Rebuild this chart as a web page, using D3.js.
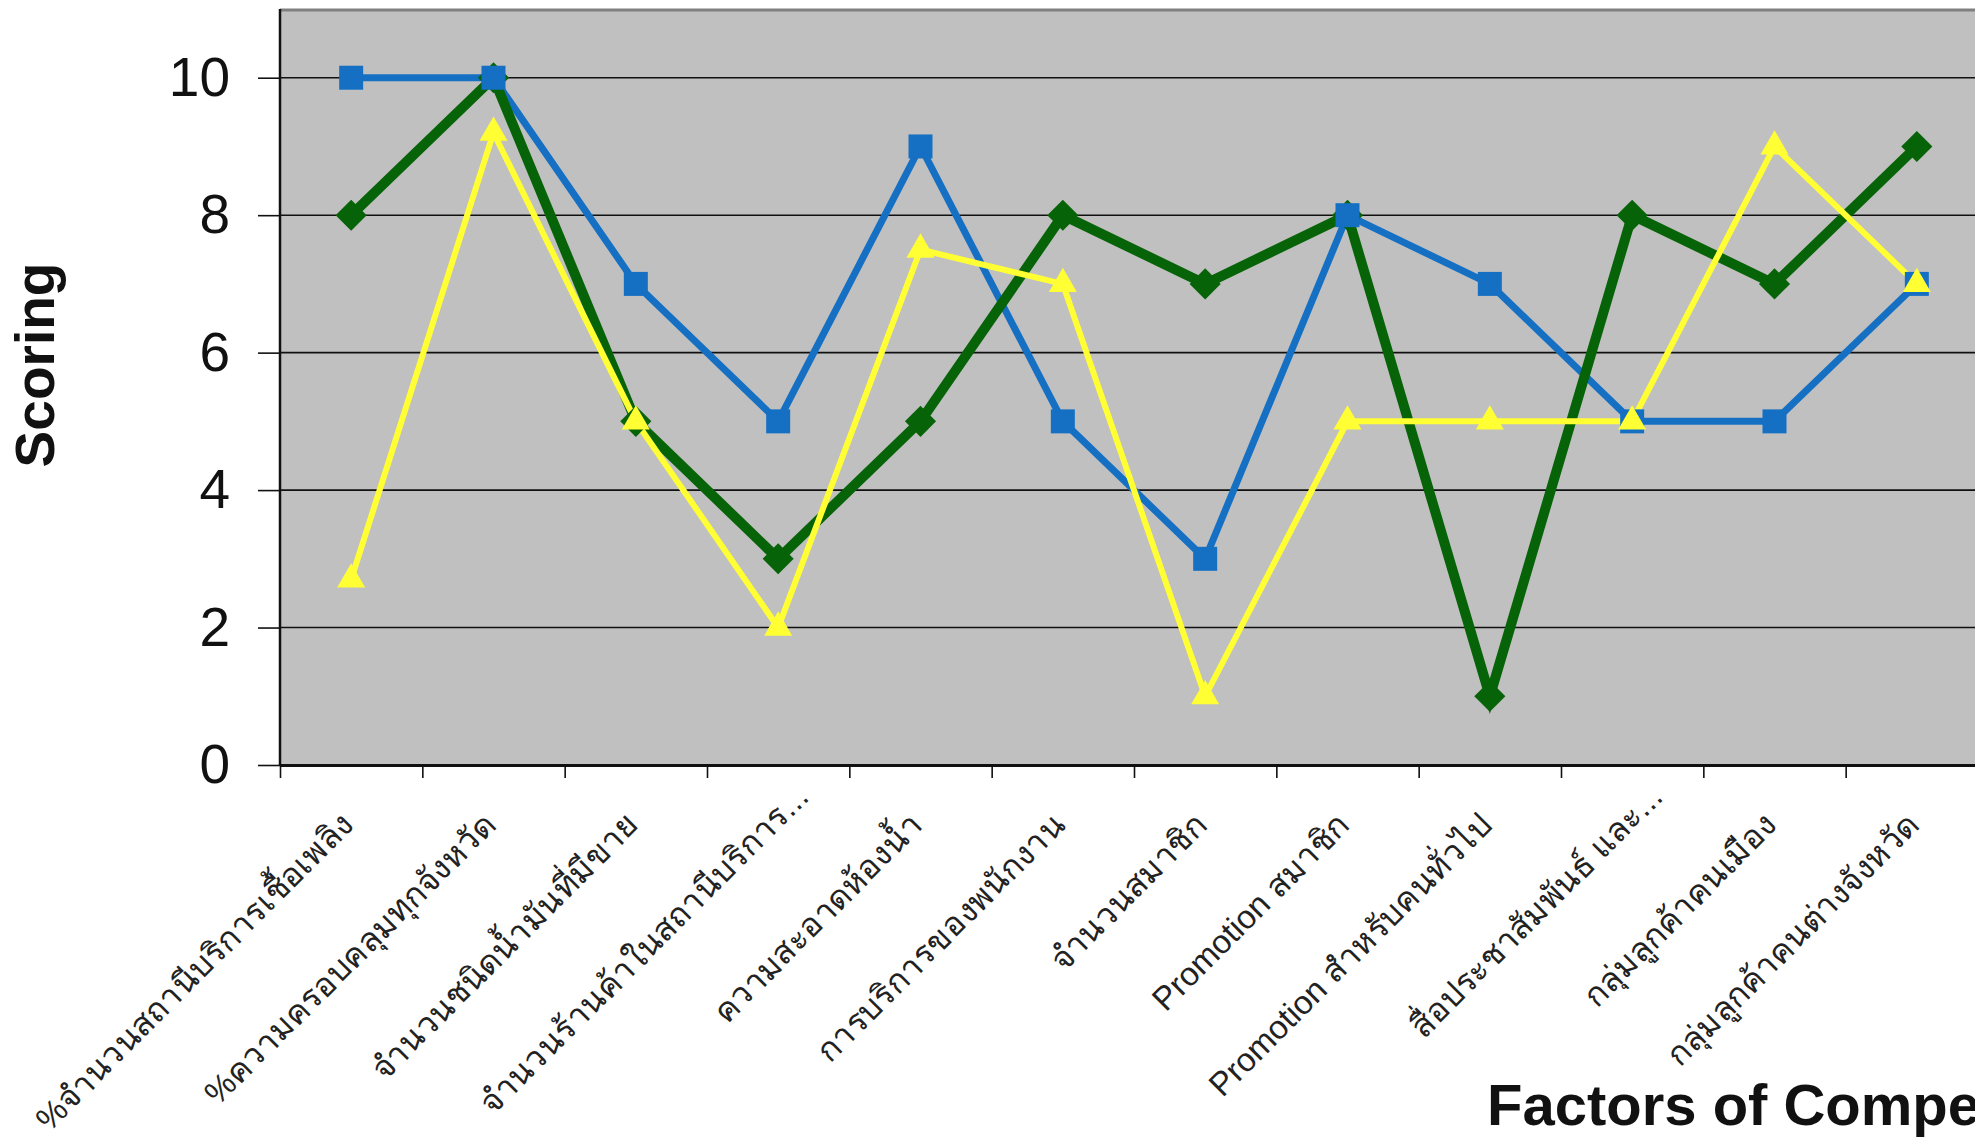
<!DOCTYPE html>
<html><head><meta charset="utf-8">
<script src="https://cdn.jsdelivr.net/npm/d3@7"></script>
<style>html,body{margin:0;padding:0;background:#fff;overflow:hidden}svg{display:block}</style>
</head><body>
<svg id="chart" width="1975" height="1138"></svg>
<script>
const categories = [
  "%จำนวนสถานีบริการเชื้อเพลิง",
  "%ความครอบคลุมทุกจังหวัด",
  "จำนวนชนิดน้ำมันที่มีขาย",
  "จำนวนร้านค้าในสถานีบริการ...",
  "ความสะอาดห้องน้ำ",
  "การบริการของพนักงาน",
  "จำนวนสมาชิก",
  "Promotion สมาชิก",
  "Promotion สำหรับคนทั่วไป",
  "สื่อประชาสัมพันธ์ และ...",
  "กลุ่มลูกค้าคนเมือง",
  "กลุ่มลูกค้าคนต่างจังหวัด"
];
const seriesBlue   = [10, 10, 7, 5, 9, 5, 3, 8, 7, 5, 5, 7];
const seriesGreen  = [8, 10, 5, 3, 5, 8, 7, 8, 1, 8, 7, 9];
const seriesYellow = [2.7, 9.2, 5, 2, 7.5, 7, 1, 5, 5, 5, 9, 7];
const yTicks = [0, 2, 4, 6, 8, 10];
const yTitle = "Scoring";
const xTitle = "Factors of Competition";

const pLeft = 280, pRight = 1988, pTop = 9, pBottom = 765;
const FONT = "'Liberation Sans', Arial, 'Noto Sans', 'DejaVu Sans', sans-serif";

const svg = d3.select("#chart");
const x = d3.scaleBand().domain(categories).range([pLeft, pRight]).padding(0);
const xb = d3.scaleLinear().domain([0, categories.length]).range([pLeft, pRight]);
const y = d3.scaleLinear().domain([0, 11]).range([pBottom, pTop]);

// plot background
svg.append("rect").attr("x", pLeft).attr("y", pTop).attr("width", pRight - pLeft).attr("height", pBottom - pTop)
  .attr("fill", "#c0c0c0");
// top border
svg.append("line").attr("x1", pLeft).attr("x2", pRight).attr("y1", pTop + 1).attr("y2", pTop + 1)
  .attr("stroke", "#808080").attr("stroke-width", 3);

// gridlines
svg.append("g").selectAll("line").data(yTicks.filter(d => d > 0)).join("line")
  .attr("x1", pLeft).attr("x2", pRight)
  .attr("y1", d => y(d)).attr("y2", d => y(d))
  .attr("stroke", "#111").attr("stroke-width", 1.6);

// y axis
const yAxis = svg.append("g").attr("transform", `translate(${pLeft},0)`)
  .call(d3.axisLeft(y).tickValues(yTicks).tickSize(22).tickPadding(28).tickSizeOuter(0));
yAxis.select(".domain").attr("stroke", "#111").attr("stroke-width", 2.5)
  .attr("d", `M0,${pTop}V${pBottom}`);
yAxis.selectAll(".tick line").attr("stroke", "#111").attr("stroke-width", 1.6);
yAxis.selectAll(".tick text").attr("font-family", FONT).attr("font-size", 55).attr("fill", "#111");

// x axis boundary ticks
const xTickAxis = svg.append("g").attr("transform", `translate(0,${pBottom})`)
  .call(d3.axisBottom(xb).tickValues(d3.range(categories.length + 1)).tickFormat("").tickSize(13).tickSizeOuter(0));
xTickAxis.select(".domain").attr("stroke", "#111").attr("stroke-width", 3);
xTickAxis.selectAll(".tick line").attr("stroke", "#111").attr("stroke-width", 1.6);

// x labels
const xLab = svg.append("g").attr("transform", `translate(0,${pBottom})`)
  .call(d3.axisBottom(x).tickSize(0).tickSizeOuter(0));
xLab.select(".domain").remove();
xLab.selectAll(".tick text")
  .attr("font-family", FONT).attr("font-size", 33).attr("fill", "#222")
  .attr("text-anchor", "end").attr("dy", 0).attr("y", 0)
  .attr("dx", d => d.endsWith("...") ? 40 : 0)
  .attr("transform", "translate(4,62) rotate(-45)");

// series
const series = [
  {key: "blue", values: seriesBlue, color: "#1570c4", width: 7},
  {key: "green", values: seriesGreen, color: "#076307", width: 10},
  {key: "yellow", values: seriesYellow, color: "#ffff33", width: 6}
];
const line = d3.line().x((d, i) => x(categories[i]) + x.bandwidth() / 2).y(d => y(d));
const lines = svg.append("g");
series.forEach(s => {
  lines.append("path").datum(s.values).attr("d", line)
    .attr("fill", "none").attr("stroke", s.color).attr("stroke-width", s.width)
    .attr("stroke-linejoin", "miter");
});
const markerOrder = [series[1], series[0], series[2]];
const marks = svg.append("g");
markerOrder.forEach(s => {
  let sym, rot = 0;
  if (s.key === "blue") sym = d3.symbol(d3.symbolSquare, 24 * 24);
  else if (s.key === "green") { sym = d3.symbol(d3.symbolSquare, 22 * 22); rot = 45; }
  else sym = d3.symbol(d3.symbolTriangle, 340);
  marks.selectAll(null).data(s.values).join("path")
    .attr("d", sym)
    .attr("transform", (d, i) => `translate(${x(categories[i]) + x.bandwidth() / 2},${y(d)}) rotate(${rot})`)
    .attr("fill", s.color);
});

// titles
svg.append("text").attr("transform", "translate(54,365) rotate(-90)")
  .attr("text-anchor", "middle").attr("font-family", FONT).attr("font-weight", "bold")
  .attr("font-size", 55).attr("fill", "#111").text(yTitle);
svg.append("text").attr("x", 1487).attr("y", 1125)
  .attr("font-family", FONT).attr("font-weight", "bold")
  .attr("font-size", 58).attr("fill", "#111").text(xTitle);
</script>
</body></html>
